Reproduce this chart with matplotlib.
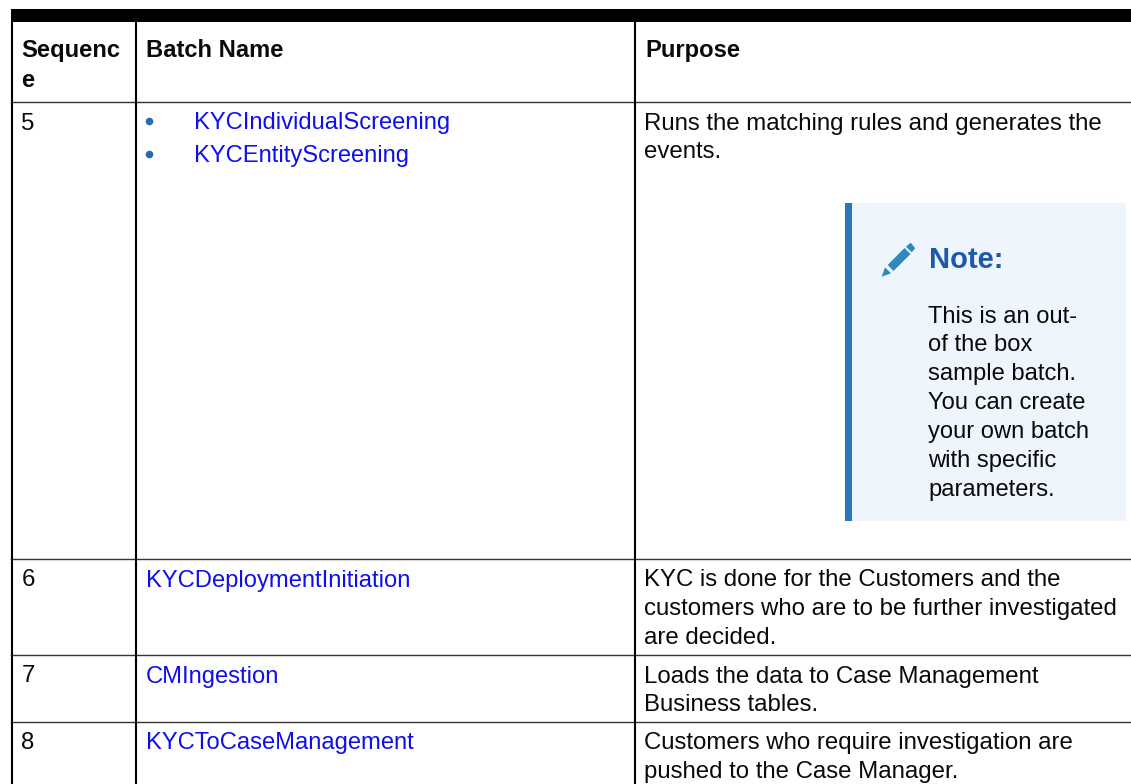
import matplotlib
matplotlib.use("Agg")
import matplotlib.pyplot as plt
from matplotlib.patches import Rectangle, Polygon

plt.rcParams['font.family'] = ['Liberation Sans', 'DejaVu Sans']

headers = ["Sequenc\ne", "Batch Name", "Purpose"]
sequence = ["5", "6", "7", "8"]
batch_names = [["KYCIndividualScreening", "KYCEntityScreening"],
               ["KYCDeploymentInitiation"],
               ["CMIngestion"],
               ["KYCToCaseManagement"]]
purpose = ["Runs the matching rules and generates the\nevents.",
           "KYC is done for the Customers and the\ncustomers who are to be further investigated\nare decided.",
           "Loads the data to Case Management\nBusiness tables.",
           "Customers who require investigation are\npushed to the Case Manager."]
note_title = "Note:"
note_text = "This is an out-\nof the box\nsample batch.\nYou can create\nyour own batch\nwith specific\nparameters."

col_x = [11.5, 136, 635]
row_y = [22, 102, 559, 655, 721.5]
FS = 17.25
FS_SMALL = 17.1
LS = 1.41
BLUE = "#0f0fee"
TEXT = "#0a0a0a"
PENCIL = "#2d8ac0"

fig = plt.figure(figsize=(11.31, 7.84), dpi=100)
ax = fig.add_axes([0, 0, 1, 1])
ax.set_xlim(0, 1131)
ax.set_ylim(784, 0)
ax.axis("off")

# header band + grid
ax.add_patch(Rectangle((11, 9), 1120, 13, color="black", lw=0))
for y in row_y[1:]:
    ax.plot([11, 1131], [y, y], color="#333333", lw=1.0)
for x in col_x:
    ax.plot([x, x], [22, 784], color="black", lw=1.5)

# header
ax.text(col_x[0] + 10, 39, headers[0], fontsize=FS_SMALL, fontweight="bold", va="top", linespacing=LS, color=TEXT)
ax.text(col_x[1] + 10, 39, headers[1], fontsize=FS_SMALL, fontweight="bold", va="top", color=TEXT)
ax.text(col_x[2] + 10, 39, headers[2], fontsize=FS_SMALL, fontweight="bold", va="top", color=TEXT)

# rows
for i in range(4):
    ax.text(col_x[0] + 10, row_y[i + 1] + 10.5, sequence[i], fontsize=FS, va="top", color=TEXT)
    ax.text(col_x[2] + 9, row_y[i + 1] + 10.5, purpose[i], fontsize=FS, va="top", linespacing=LS, color=TEXT)
    if len(batch_names[i]) > 1:
        for j, name in enumerate(batch_names[i]):
            y = row_y[i + 1] + 19 + j * 33
            ax.plot(149, y, "o", color="#2a6ab0", ms=5.5, mew=0)
            ax.text(194, y + 2, name, fontsize=FS_SMALL, color=BLUE, va="center")
    else:
        ax.text(col_x[1] + 10, row_y[i + 1] + 10.5, batch_names[i][0], fontsize=FS_SMALL, color=BLUE, va="top")

# note box
ax.add_patch(Rectangle((845, 203), 281, 318, color="#eef5fd", lw=0))
ax.add_patch(Rectangle((845, 203), 6.5, 318, color="#2a76bd", lw=0))
ax.add_patch(Polygon([(881.7, 276.7), (885, 267.3), (891, 273.3)], color=PENCIL, lw=0))
ax.add_patch(Polygon([(887.7, 265), (904.5, 248), (910.5, 254), (893.5, 271)], color=PENCIL, lw=0))
ax.add_patch(Polygon([(906, 246.7), (910.7, 242.7), (915.3, 248.3), (911.7, 252.3)], color=PENCIL, lw=0))
ax.text(929, 260, note_title, fontsize=21, fontweight="bold", color="#1f5aa8", va="center")
ax.text(928.5, 305.5, note_text, fontsize=FS_SMALL, va="top", linespacing=LS, color=TEXT)

fig.savefig("out.png", dpi=100)
